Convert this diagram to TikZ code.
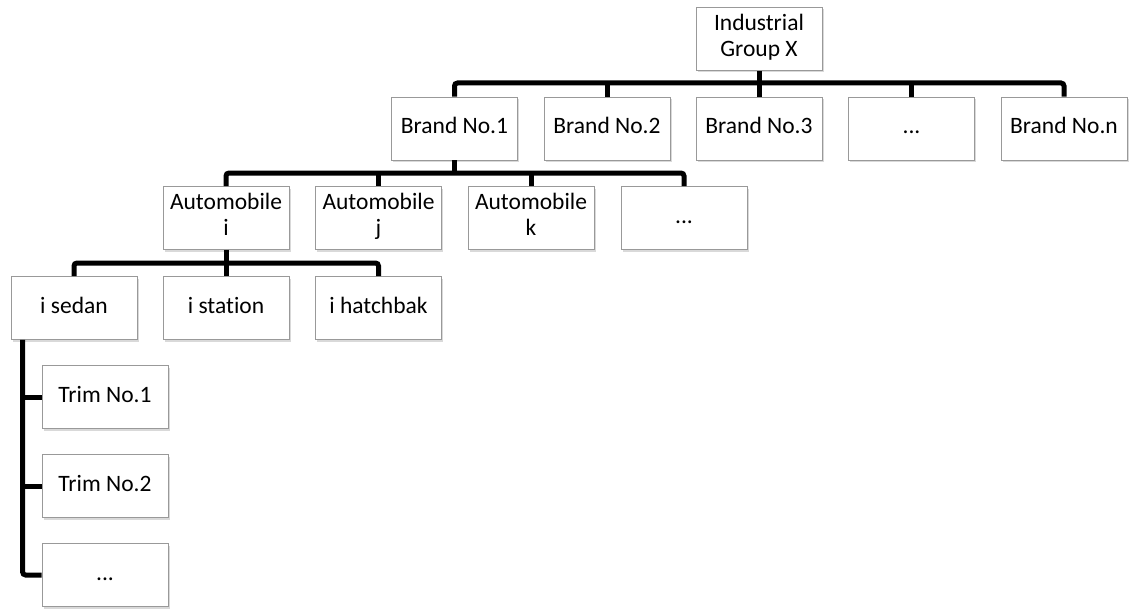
\documentclass[tikz,border=0pt]{standalone}
\usepackage{fontspec}
\setmainfont{Carlito}[Ligatures=NoCommon]
\usepackage{tikz}
\usetikzlibrary{calc, shadows, positioning}

\tikzset{
  unit/.style={draw=black!40, fill=white, line width=0.8pt, minimum width=126pt, minimum height=63pt,
    inner sep=0pt, align=center, font=\fontsize{23.5}{26}\selectfont, execute at begin node=\strut,
    drop shadow={opacity=0.3, shadow xshift=1.5pt, shadow yshift=-2pt}},
  link/.style={line width=5pt, rounded corners=3pt}
}

\begin{document}
\begin{tikzpicture}[x=1pt, y=-1pt]
\useasboundingbox (0,0) rectangle (1133,610);
% levels
\node[unit] (grp) at (759,39) {Industrial\\\strut Group X};
\node[unit] (b1) at (454.5,128.5) {Brand No.1};
\node[unit] (b2) at (607,128.5) {Brand No.2};
\node[unit] (b3) at (759,128.5) {Brand No.3};
\node[unit] (b4) at (911.5,128.5) {...};
\node[unit] (b5) at (1064,128.5) {Brand No.n};
\node[unit] (a1) at (226,218) {Automobile\\\strut i};
\node[unit] (a2) at (378.5,218) {Automobile\\\strut j};
\node[unit] (a3) at (531,218) {Automobile\\\strut k};
\node[unit] (a4) at (684,218) {...};
\node[unit] (s1) at (74,308) {i sedan};
\node[unit] (s2) at (226,308) {i station};
\node[unit] (s3) at (378.5,308) {i hatchbak};
\node[unit] (t1) at (105,397) {Trim No.1};
\node[unit] (t2) at (105,486) {Trim No.2};
\node[unit] (t3) at (105,575) {...};
% buses
\coordinate (busA) at (0,83);
\coordinate (busB) at (0,173);
\coordinate (busC) at (0,263);
\coordinate (spine) at ($(s1.south west)+(12,0)$);
\draw[link] (grp.south) -- (grp.south |- busA);
\draw[link] (b1.north) -- (b1.north |- busA) -- (b5.north |- busA) -- (b5.north);
\foreach \n in {b2,b3,b4}
  \draw[link] (\n.north |- busA) -- (\n.north);
\draw[link] (b1.south) -- (b1.south |- busB);
\draw[link] (a1.north) -- (a1.north |- busB) -- (a4.north |- busB) -- (a4.north);
\foreach \n in {a2,a3}
  \draw[link] (\n.north |- busB) -- (\n.north);
\draw[link] (a1.south) -- (a1.south |- busC);
\draw[link] (s1.north) -- (s1.north |- busC) -- (s3.north |- busC) -- (s3.north);
\draw[link] (s2.north |- busC) -- (s2.north);
\draw[link] (spine) -- (spine |- t3.west) -- (t3.west);
\foreach \n in {t1,t2}
  \draw[link] (spine |- \n.west) -- (\n.west);
\end{tikzpicture}
\end{document}
